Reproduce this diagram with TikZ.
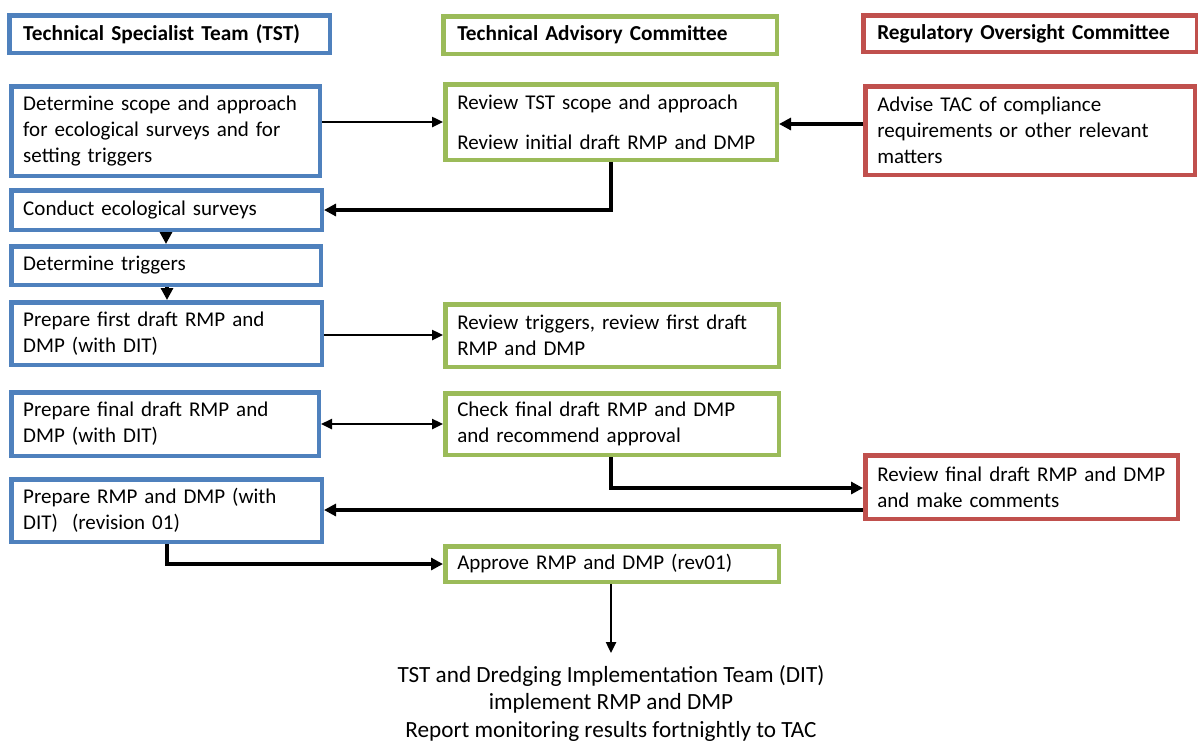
\documentclass[tikz,border=0pt]{standalone}
\usepackage{fontspec}
\setmainfont{Carlito}
\usetikzlibrary{arrows.meta}
\definecolor{tstblue}{HTML}{4F81BD}
\definecolor{tacgreen}{HTML}{9BBB59}
\definecolor{rocred}{HTML}{C0504D}
\tikzset{
  box/.style={draw, line width=4.5pt, inner xsep=12pt, inner ysep=0pt, align=left,
    font=\fontsize{21}{26}\selectfont, fill=white},
  head/.style={font=\bfseries\fontsize{21.3}{24}\selectfont, inner xsep=14pt},
  tst/.style={draw=tstblue},
  tac/.style={draw=tacgreen},
  roc/.style={draw=rocred},
  thick arrow/.style={line width=3.6pt, -{Triangle[length=12pt,width=12pt]}},
  thin arrow/.style={line width=2.4pt, -{Triangle[length=11pt,width=10pt]}},
  both arrow/.style={line width=2.4pt, {Triangle[length=11pt,width=10pt]}-{Triangle[length=11pt,width=10pt]}},
}
\newcommand{\mybox}[7]{%
  \pgfmathsetmacro\bw{#4-#2-4.5}%
  \pgfmathsetmacro\bh{#5-#3-4.5}%
  \pgfmathsetmacro\tw{\bw-24}%
  \node[box,#6,minimum width=\bw pt, text width=\tw pt, minimum height=\bh pt] (#1) at ({(#2+#4)/2},{-(#3+#5)/2}) {#7};%
}
\begin{document}
\begin{tikzpicture}[x=1pt,y=1pt]
\useasboundingbox (0,0) rectangle (1198,-742);
% headers
\mybox{h1}{9}{13}{330}{55}{tst,head}{Technical Specialist Team (TST)}
\mybox{h2}{443}{14}{777}{56}{tac,head}{Technical Advisory Committee}
\mybox{h3}{863}{13}{1197}{54}{roc,head}{Regulatory Oversight Committee}
% row 1
\mybox{b1}{9}{84}{322}{178}{tst}{Determine scope and approach\\for ecological surveys and for\\setting triggers}
\mybox{t1}{443}{82}{779}{162}{tac}{Review TST scope and approach\\[14pt]Review initial draft RMP and DMP}
\mybox{r1}{863}{84}{1197}{177}{roc}{Advise TAC of compliance\\requirements or other relevant\\matters}
% TST column
\mybox{b2}{9}{188}{324}{232}{tst}{Conduct ecological surveys}
\mybox{b3}{9}{244}{323}{287}{tst}{Determine triggers}
\mybox{b4}{9}{300}{324}{367}{tst}{Prepare first draft RMP and\\DMP (with DIT)}
\mybox{b5}{9}{390}{321}{458}{tst}{Prepare final draft RMP and\\DMP (with DIT)}
\mybox{b6}{9}{477}{324}{544}{tst}{Prepare RMP and DMP (with\\DIT)\ \ (revision 01)}
% TAC column
\mybox{t2}{443}{302}{781}{369}{tac}{Review triggers, review first draft\\RMP and DMP}
\mybox{t3}{443}{391}{781}{457}{tac}{Check final draft RMP and DMP\\and recommend approval}
\mybox{t4}{443}{544}{781}{584}{tac}{Approve RMP and DMP (rev01)}
% ROC
\mybox{r2}{863}{453}{1180}{521}{roc}{Review final draft RMP and DMP\\and make comments}
% bottom text
\node[anchor=north, align=center, inner sep=0pt, font=\fontsize{23.2}{27.5}\selectfont] (fin) at (611,-665)
  {TST and Dredging Implementation Team (DIT)\\implement RMP and DMP\\Report monitoring results fortnightly to TAC};
\coordinate (finTop) at (611,-653);
% connectors
\draw[thin arrow] (b1.east |- 0,-122) -- (t1.west |- 0,-122);
\draw[thick arrow] (r1.west |- 0,-124) -- (t1.east |- 0,-124);
\draw[thick arrow] (t1.south -| 611,0) |- (b2.east);
\draw[thick arrow] (b2.south -| 166,0) -- (b3.north -| 166,0);
\draw[thick arrow] (b3.south -| 167,0) -- (b4.north -| 167,0);
\draw[thin arrow] (b4.east |- 0,-335) -- (t2.west |- 0,-335);
\draw[both arrow] (b5.east |- 0,-424) -- (t3.west |- 0,-424);
\draw[thick arrow] (t3.south -| 611,0) |- (r2.west |- 0,-488);
\draw[thick arrow] (r2.west |- 0,-510) -- (b6.east |- 0,-510);
\draw[thick arrow] (b6.south -| 167,0) |- (t4.west);
\draw[thin arrow] (t4.south -| 611,0) -- (finTop);
\end{tikzpicture}
\end{document}
